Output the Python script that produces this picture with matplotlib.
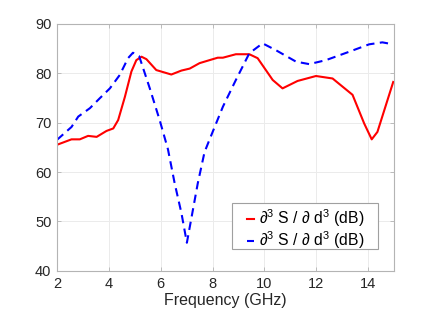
import matplotlib
matplotlib.use('Agg')
import matplotlib.pyplot as plt
from matplotlib.patches import Rectangle

# dados
freq_vermelho = [2.0, 2.56, 2.88, 3.2, 3.53, 3.91, 4.17, 4.36, 4.62, 4.87, 5.06, 5.26,
                 5.45, 5.83, 6.41, 6.8, 7.12, 7.5, 7.88, 8.2, 8.4, 8.9, 9.42, 9.74,
                 10.32, 10.7, 11.28, 11.99, 12.63, 13.4, 13.85, 14.14, 14.36, 14.97]
val_vermelho = [65.5, 66.6, 66.6, 67.3, 67.1, 68.3, 68.8, 70.5, 75.2, 80.3, 82.6, 83.3,
                82.8, 80.6, 79.7, 80.5, 80.9, 82.0, 82.6, 83.1, 83.1, 83.8, 83.8, 83.0,
                78.6, 76.9, 78.4, 79.4, 78.9, 75.6, 69.8, 66.6, 68.1, 78.2]

freq_azul = [2.0, 2.56, 2.82, 3.27, 3.65, 4.04, 4.42, 4.74, 4.93, 5.17, 5.58, 5.96,
             6.28, 6.54, 6.8, 7.01, 7.22, 7.43, 7.69, 7.88, 8.4, 8.9, 9.42, 9.93,
             10.45, 11.22, 11.73, 12.37, 13.27, 14.04, 14.55, 14.97]
val_azul = [66.5, 69.1, 71.2, 72.9, 74.9, 76.9, 79.6, 83.0, 84.1, 83.4, 76.9, 70.5,
            64.6, 57.7, 51.7, 45.7, 51.7, 57.7, 64.0, 66.5, 73.2, 78.6, 84.0, 86.0,
            84.6, 82.3, 81.8, 82.6, 84.3, 85.8, 86.2, 85.8]

rotulo = r'$\partial^3$ S / $\partial$ d$^3$ (dB)'

plt.rcParams['font.family'] = ['Liberation Sans', 'DejaVu Sans']
plt.rcParams['mathtext.fontset'] = 'custom'
plt.rcParams['mathtext.rm'] = 'Liberation Sans'
plt.rcParams['mathtext.it'] = 'Liberation Sans:italic'

fig = plt.figure(figsize=(4.36, 3.14), dpi=100)
ax = fig.add_axes([0.1307, 0.137, 0.773, 0.788])

ax.plot(freq_vermelho, val_vermelho, color='#ff0000', lw=1.5, label=rotulo)
ax.plot(freq_azul, val_azul, color='#0000ff', lw=1.5, dashes=(4, 2.6), label=rotulo)

ax.set_xlim(2, 15)
ax.set_ylim(40, 90)
ax.set_xticks(range(2, 15, 2))
ax.set_yticks(range(40, 91, 10))
ax.grid(True, color='#ebebeb', lw=0.7)
ax.set_axisbelow(True)

for lado in ax.spines.values():
    lado.set_color('#b4b4b4')
    lado.set_linewidth(0.8)
ax.tick_params(direction='in', length=3, width=0.6, color='#b4b4b4',
               labelsize=10.5, labelcolor='#262626', top=True, right=True, pad=4)

ax.set_xlabel('Frequency (GHz)', fontsize=11.5, color='#262626', labelpad=1.5)

# moldura da legenda (estilo MATLAB, texto centralizado)
moldura = Rectangle((0.519, 0.089), 0.434, 0.186, transform=ax.transAxes,
                    facecolor='white', edgecolor='#a0a0a0', lw=0.8, zorder=4)
ax.add_patch(moldura)

leg = ax.legend(loc='center', bbox_to_anchor=(0.738, 0.168), frameon=False,
                fontsize=11.3, handlelength=0.45, handletextpad=0.3,
                borderpad=0, labelspacing=0.0)
leg.set_zorder(5)

fig.savefig('out.png', dpi=100)
